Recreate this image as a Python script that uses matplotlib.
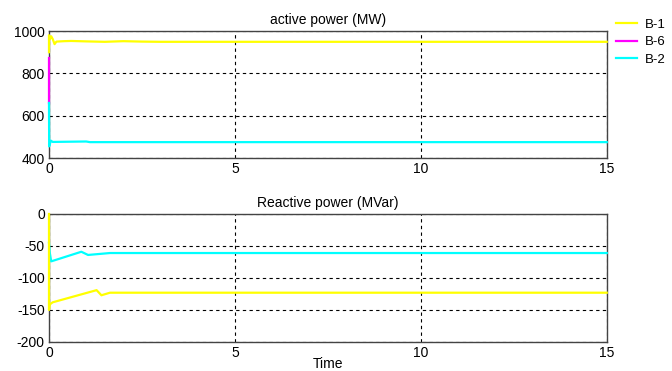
import matplotlib
matplotlib.use("Agg")
import matplotlib.pyplot as plt

plt.rcParams['font.family'] = ['Liberation Sans', 'DejaVu Sans']
plt.rcParams['axes.unicode_minus'] = False

# ---- data ----
b1_p_t = [0, 0, 0.02, 0.06, 0.1, 0.15, 0.2, 0.4, 0.6, 1.0, 1.5, 2.0, 2.5, 3.0, 15]
b1_p = [900, 980, 960, 975, 962, 938, 950, 952, 953, 951, 949, 952, 950, 949, 949]
b6_p_t = [0, 0]
b6_p = [874, 660]
b2_p_t = [0, 0.005, 0.05, 0.1, 1.0, 1.1, 15]
b2_p = [660, 455, 482, 476, 478, 475, 475]

b2_q_t = [0, 0.02, 0.06, 0.87, 1.05, 1.64, 15]
b2_q = [-45, -60, -74, -59, -64, -61, -61]
b1_q_t = [0, 0, 0.02, 0.05, 0.1, 1.28, 1.41, 1.64, 15]
b1_q = [0, -150, -142, -140, -138, -119, -127, -123, -123]

labels = ["B-1", "B-6", "B-2"]
colors = ["#ffff00", "#ff00ff", "#00ffff"]
x_ticks = [0, 5, 10, 15]

fig = plt.figure(figsize=(6.72, 3.71), dpi=100)
ax1 = fig.add_axes([0.0729, 0.5741, 0.830, 0.3423])
ax2 = fig.add_axes([0.0729, 0.0782, 0.830, 0.3450])

fs = 10
l1, = ax1.plot(b1_p_t, b1_p, color=colors[0], lw=1.6, clip_on=False, zorder=3)
l6, = ax1.plot(b6_p_t, b6_p, color=colors[1], lw=1.6, clip_on=False, zorder=3)
l2, = ax1.plot(b2_p_t, b2_p, color=colors[2], lw=1.6, clip_on=False, zorder=3)
ax1.set_ylim(400, 1000)
ax1.set_yticks([400, 600, 800, 1000])
ax1.set_title("active power (MW)", fontsize=fs, pad=5)

ax2.plot(b2_q_t, b2_q, color=colors[2], lw=1.6, clip_on=False, zorder=3)
ax2.plot(b1_q_t, b1_q, color=colors[0], lw=1.6, clip_on=False, zorder=3)
ax2.set_ylim(-200, 0)
ax2.set_yticks([-200, -150, -100, -50, 0])
ax2.set_title("Reactive power (MVar)", fontsize=fs, pad=5)
ax2.set_xlabel("Time", fontsize=fs, labelpad=-2)

for ax in (ax1, ax2):
    ax.set_xlim(0, 15)
    ax.set_xticks(x_ticks)
    ax.grid(True, color="black", linestyle=(0, (3, 3)), lw=0.8)
    ax.tick_params(labelsize=fs, length=0, pad=3)
    for s in ax.spines.values():
        s.set_color("#444444")
        s.set_linewidth(1)
        s.set_zorder(2)

fig.legend([l1, l6, l2], labels, loc="upper left", bbox_to_anchor=(0.917, 0.95),
           frameon=False, fontsize=9.5, handlelength=1.6, handletextpad=0.6,
           labelspacing=0.4, borderaxespad=0, borderpad=0)

fig.savefig("out.png", dpi=100)
